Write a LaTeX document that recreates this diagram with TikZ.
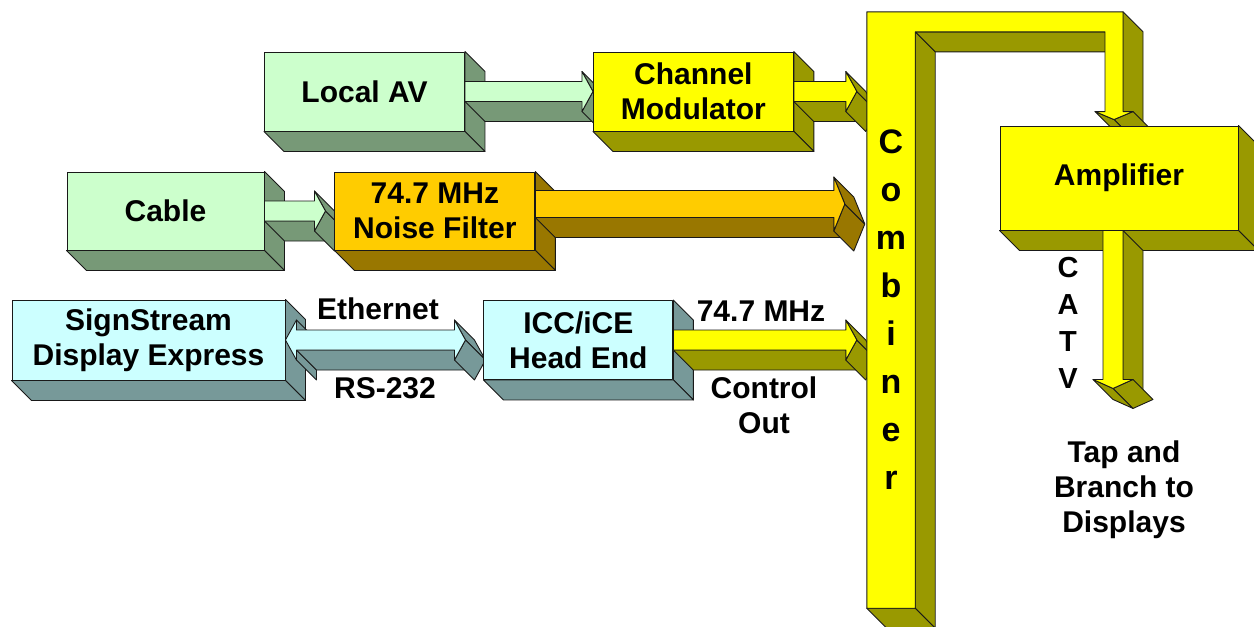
\documentclass[tikz,border=0pt]{standalone}
\usepackage{fontspec}
\setmainfont{Liberation Sans}
\usetikzlibrary{calc,positioning}

\definecolor{grnF}{RGB}{204,255,204}
\definecolor{grnS}{RGB}{119,153,119}
\definecolor{yelF}{RGB}{255,255,0}
\definecolor{yelS}{RGB}{153,153,0}
\definecolor{orgF}{RGB}{255,204,0}
\definecolor{orgS}{RGB}{153,119,0}
\definecolor{cyaF}{RGB}{204,255,255}
\definecolor{cyaS}{RGB}{119,153,153}
\definecolor{edge}{RGB}{25,25,25}

\pgfdeclarelayer{shade}
\pgfdeclarelayer{pipe}
\pgfsetlayers{shade,pipe,main}

\tikzset{
  outl/.style={draw=edge,line width=0.9pt,line join=round},
  side/.style={outl,fill=#1},
  front/.style={outl,fill=#1},
  block/.style={outl,fill=#1,inner sep=0pt,align=center,minimum width=200pt,minimum height=79pt},
}

% depth of the extrusion
\newcommand\dep{20}
% visible side face of the edge #1--#2
\newcommand\face[3]{\filldraw[side=#3] (#1) -- (#2) -- ++(\dep,\dep) -- ([shift={(\dep,\dep)}]#1) -- cycle;}
\newcommand\slab[2]{\face{#1.north east}{#1.south east}{#2}\face{#1.south east}{#1.south west}{#2}}
% [half shaft] start, tip, face, shade
\newcommand\rpipe[5][10]{%
  \path (#2) ++(0,-#1) coordinate (A) (#2) ++(0,#1) coordinate (G)
    (#3) coordinate (T) ++(-11,-2*#1) coordinate (C) ++(0,#1) coordinate (B)
    ++(0,2*#1) coordinate (F) ++(0,#1) coordinate (E);
  \face{G}{F}{#5}\face{T}{E}{#5}\face{C}{T}{#5}
  \filldraw[front=#4] (A) -- (B) -- (C) -- (T) -- (E) -- (F) -- (G) -- cycle;}
\newcommand\bpipe[5][10]{%
  \path (#2) coordinate (T1) ++(11,-2*#1) coordinate (C1) ++(0,#1) coordinate (B1)
    ++(0,2*#1) coordinate (F1) ++(0,#1) coordinate (E1)
    (#3) coordinate (T2) ++(-11,-2*#1) coordinate (C2) ++(0,#1) coordinate (B2)
    ++(0,2*#1) coordinate (F2) ++(0,#1) coordinate (E2);
  \face{C1}{B1}{#5}\face{F1}{E1}{#5}\face{F1}{F2}{#5}\face{C2}{T2}{#5}\face{T2}{E2}{#5}
  \filldraw[front=#4] (T1) -- (C1) -- (B1) -- (B2) -- (C2) -- (T2) -- (E2) -- (F2) -- (F1) -- (E1) -- cycle;}
\newcommand\dpipe[5][10]{%
  \path (#2) ++(-#1,0) coordinate (A) (#2) ++(#1,0) coordinate (G)
    (#3) coordinate (T) ++(-2*#1,-9) coordinate (C) ++(#1,0) coordinate (B)
    ++(2*#1,0) coordinate (F) ++(#1,0) coordinate (E);
  \face{G}{F}{#5}\face{E}{T}{#5}\face{T}{C}{#5}
  \filldraw[front=#4] (A) -- (B) -- (C) -- (T) -- (E) -- (F) -- (G) -- cycle;}

\begin{document}
\begin{tikzpicture}[x=1pt,y=-1pt,every node/.style={font=\bfseries\fontsize{30}{35}\selectfont}]
\useasboundingbox (0,0) rectangle (1254,627);

% boxes
\node[block=grnF] (la) at (364.5,91.5) {Local AV};
\node[block=yelF,right=128pt of la] (cm) {Channel\\Modulator};
\node[block=grnF,minimum width=197pt,minimum height=78pt] (cab) at (165.5,211) {Cable};
\node[block=orgF,minimum height=78pt,right=70pt of cab] (nf) {74.7 MHz\\Noise Filter};
\node[block=cyaF,minimum width=273pt,minimum height=80pt] (ss) at (148.5,340) {SignStream\\Display Express};
\node[block=cyaF,minimum width=189pt,right=198pt of ss] (icc) {ICC/iCE\\Head End};
\node[block=yelF,minimum width=238pt,minimum height=104pt] (amp) at (1119,178) {Amplifier};
\node[inner sep=0pt,align=center,minimum width=48pt,minimum height=596pt,
  font=\bfseries\fontsize{34}{48}\selectfont] (comb) at (891,310) {C\\o\\m\\b\\i\\n\\e\\r};

% combiner outline
\coordinate (ft) at ($(amp.north)+(-5,-6)$);
\coordinate (k1) at (comb.south west);
\coordinate (k2) at (comb.north west);
\coordinate (k3) at ($(ft |- comb.north)+(9,0)$);
\coordinate (k4) at ($(ft)+(9,-8)$);
\coordinate (k5) at ($(ft)+(19,-8)$);
\coordinate (k7) at ($(ft)+(-19,-8)$);
\coordinate (k8) at ($(ft)+(-9,-8)$);
\coordinate (k9) at ($(ft |- comb.north)+(-9,20)$);
\coordinate (k10) at ($(comb.north east)+(0,20)$);
\coordinate (k11) at (comb.south east);
\coordinate (drop) at ($(amp.south)+(-6,158)$);

\begin{pgfonlayer}{shade}
\slab{la}{grnS}\slab{cm}{yelS}\slab{cab}{grnS}\slab{nf}{orgS}
\slab{ss}{cyaS}\slab{icc}{cyaS}\slab{amp}{yelS}
\face{k10}{k11}{yelS}\face{k11}{k1}{yelS}\face{k9}{k10}{yelS}
\face{k3}{k4}{yelS}\face{k5}{ft}{yelS}\face{ft}{k7}{yelS}
\end{pgfonlayer}

\begin{pgfonlayer}{pipe}
\rpipe{la.east}{cm.west}{grnF}{grnS}
\rpipe{cm.east}{$(comb.west |- cm.east)+(-10,0)$}{yelF}{yelS}
\rpipe{cab.east}{$(nf.west)+(-9,0)$}{grnF}{grnS}
\rpipe[13.5]{$(nf.east)+(0,-7)$}{$(comb.west |- nf.east)+(-22,-7)$}{orgF}{orgS}
\bpipe{ss.east}{$(icc.west)+(-18,0)$}{cyaF}{cyaS}
\rpipe{icc.east}{$(comb.west |- icc.east)+(-10,0)$}{yelF}{yelS}
\dpipe{$(amp.south)+(-6,0)$}{drop}{yelF}{yelS}
\filldraw[front=yelF] (k1) -- (k2) -- (k3) -- (k4) -- (k5) -- (ft) -- (k7) -- (k8) -- (k9) -- (k10) -- (k11) -- cycle;
\end{pgfonlayer}

% labels
\node (eth) at (378,309) {Ethernet};
\node (rs) at (385,388) {RS-232};
\node (mhz) at (761,311) {74.7 MHz};
\node[align=center] (ctl) at (764,405) {Control\\Out};
\node[align=center,font=\bfseries\fontsize{29}{37}\selectfont] (catv) at (1068,323) {C\\A\\T\\V};
\node[align=center] (tap) at (1124,490) {Tap and\\Branch to\\Displays};
\end{tikzpicture}
\end{document}
